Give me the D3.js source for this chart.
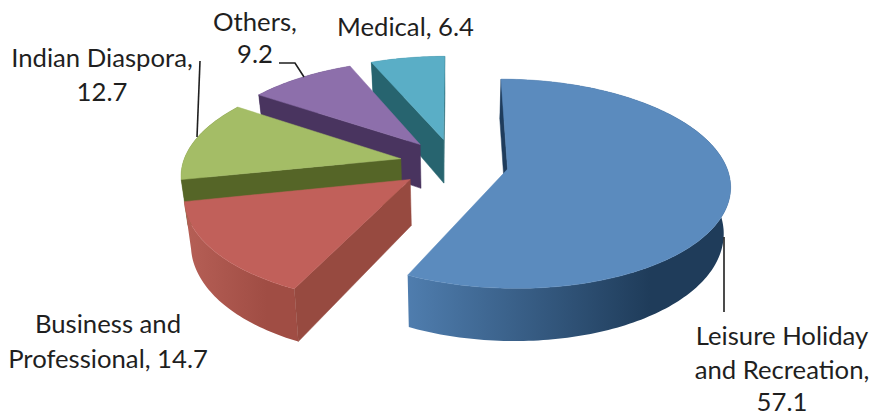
<!DOCTYPE html>
<html>
<head>
<meta charset="utf-8">
<script src="https://d3js.org/d3.v7.min.js"></script>
<style>
	html, body { margin: 0; padding: 0; background: #fff; overflow: hidden; }
	text { font-family: Lato, "Open Sans", sans-serif; font-size: 25.7px; fill: #1f1f1f; }
</style>
</head>
<body>
<svg id="chart" width="874" height="416"></svg>
<script>
// Chart values
var categories = ["Leisure Holiday and Recreation", "Business and Professional", "Indian Diaspora", "Others", "Medical"];
var values = [57.1, 14.7, 12.7, 9.2, 6.4];

// slice colours: top face, cut face, rim left, rim right
var topColors = ["#5b8bbe", "#c1605a", "#a4bd66", "#8d6fab", "#5aaec6"];
var cutColors = ["#1f3c5c", "#974a40", "#556527", "#49345f", "#27646f"];
var rimLeft = ["#4f7dae", "#b65f56", "#66782f", "#57406f", "#2f7585"];
var rimRight = ["#1f3c5a", "#a04d44", "#556527", "#49345f", "#27646f"];

var svg = d3.select("#chart");
var defs = svg.append("defs");

// the flat disc is seen in perspective, so project (u, v, z) on to the screen
var cx = 454, cy = 163.5, radiusX = 218, radiusY = 101, keystone = 0.139, depth = 45, explode = 0.25;
function project(u, v, z) {
	var w = 1 + keystone * v;
	return [cx + radiusX * u / w * (1 - 0.025 * z), cy + (-radiusY * v + depth * z) / w];
}

var line = d3.line();
var pie = d3.pie().sort(null);
var slices = pie(values);

function rimPoints(d, z) {
	var mid = (d.startAngle + d.endAngle) / 2;
	var ox = explode * Math.sin(mid), oy = explode * Math.cos(mid);
	var n = Math.ceil((d.endAngle - d.startAngle) / 0.02);
	return d3.range(n + 1).map(function(i) {
		var a = d.startAngle + (d.endAngle - d.startAngle) * i / n;
		return project(ox + Math.sin(a), oy + Math.cos(a), z);
	});
}
function apexPoint(d, z) {
	var mid = (d.startAngle + d.endAngle) / 2;
	return project(explode * Math.sin(mid), explode * Math.cos(mid), z);
}

// paint from the back slice to the front one
var order = slices.map(function(d, i) { return i; }).reverse();
order.forEach(function(i) {
	var d = slices[i];
	var g = svg.append("g").attr("class", "slice");
	var top = rimPoints(d, 0), bottom = rimPoints(d, 1);
	var a0 = apexPoint(d, 0), a1 = apexPoint(d, 1);

	// outer wall, shaded from left to right
	var ext = d3.extent(top, function(p) { return p[0]; });
	var grad = defs.append("linearGradient")
		.attr("id", "rim" + i)
		.attr("gradientUnits", "userSpaceOnUse")
		.attr("x1", ext[0]).attr("x2", ext[1]).attr("y1", 0).attr("y2", 0);
	grad.append("stop").attr("offset", "0%").attr("stop-color", rimLeft[i]);
	grad.append("stop").attr("offset", "75%").attr("stop-color", rimRight[i]);
	g.append("path")
		.attr("d", line(top.concat(bottom.slice().reverse())) + "Z")
		.style("fill", "url(#rim" + i + ")");

	// the cut faces, only the ones turned towards us
	[top[0], top[top.length - 1]].forEach(function(p, k) {
		var q = k == 0 ? bottom[0] : bottom[bottom.length - 1];
		var face = [a0, p, q, a1];
		var area = d3.polygonArea(face);
		if ((k == 0 && area > 0) || (k == 1 && area < 0)) {
			g.append("path")
				.attr("d", line(face) + "Z")
				.style("fill", cutColors[i])
				.style("stroke", cutColors[i])
				.style("stroke-width", 0.5);
		}
	});

	// top face
	g.append("path")
		.attr("d", line([a0].concat(top)) + "Z")
		.style("fill", topColors[i])
		.style("stroke", topColors[i])
		.style("stroke-width", 0.5);
});

// leader lines
var leaders = svg.append("g")
	.style("fill", "none").style("stroke", "#1f1f1f").style("stroke-width", 1.6);
leaders.append("path").attr("d", line([[200, 61], [197, 137]]));
leaders.append("path").attr("d", line([[279, 63], [295, 63], [304, 77]]));
leaders.append("path").attr("d", line([[724, 237], [724, 312]]));

// labels, wrapped as in the picture
function addLabel(x, baselines, lines) {
	var t = svg.append("text").attr("text-anchor", "middle");
	lines.forEach(function(s, k) {
		t.append("tspan").attr("x", x).attr("y", baselines[k]).text(s);
	});
}
addLabel(782, [345, 379, 411], ["Leisure Holiday", "and Recreation,", values[0]]);
addLabel(108, [333, 368], ["Business and", "Professional, " + values[1]]);
addLabel(102, [67, 101], ["Indian Diaspora,", values[2]]);
addLabel(255, [31, 63], ["Others,", values[3]]);
addLabel(405.5, [36], ["Medical, " + values[4]]);
</script>
</body>
</html>
